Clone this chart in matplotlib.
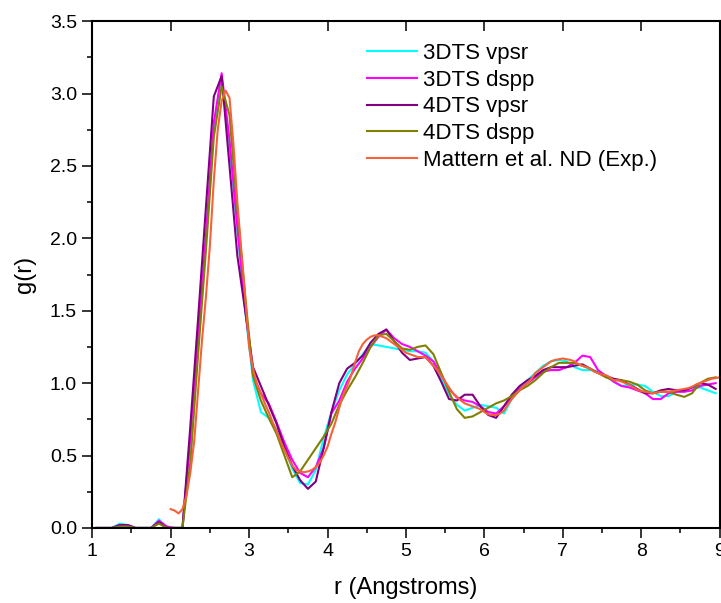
import matplotlib
matplotlib.use("Agg")
import matplotlib.pyplot as plt
from matplotlib.ticker import MultipleLocator

plt.rcParams['font.family'] = ['Liberation Sans', 'DejaVu Sans']

# Simulation histogram bins (Angstroms)
r_sim = [1.05, 1.15, 1.25, 1.35, 1.45, 1.55, 1.65, 1.75, 1.85, 1.95,
         2.05, 2.15, 2.25, 2.35, 2.45, 2.55, 2.65, 2.75, 2.85, 2.95,
         3.05, 3.15, 3.25, 3.35, 3.45, 3.55, 3.65, 3.75, 3.85, 3.95,
         4.05, 4.15, 4.25, 4.35, 4.45, 4.55, 4.65, 4.75, 4.85, 4.95,
         5.05, 5.15, 5.25, 5.35, 5.45, 5.55, 5.65, 5.75, 5.85, 5.95,
         6.05, 6.15, 6.25, 6.35, 6.45, 6.55, 6.65, 6.75, 6.85, 6.95,
         7.05, 7.15, 7.25, 7.35, 7.45, 7.55, 7.65, 7.75, 7.85, 7.95,
         8.05, 8.15, 8.25, 8.35, 8.45, 8.55, 8.65, 8.75, 8.85, 8.95]

g_3dts_vpsr = [0.00, 0.00, 0.00, 0.03, 0.02, 0.00, 0.00, 0.00, 0.06, 0.00,
               0.00, 0.00, 0.60, 1.30, 2.00, 2.75, 3.10, 2.65, 2.05, 1.50,
               1.02, 0.80, 0.76, 0.68, 0.55, 0.41, 0.31, 0.30, 0.40, 0.62,
               0.80, 0.95, 1.06, 1.13, 1.20, 1.27, 1.26, 1.25, 1.24, 1.23,
               1.22, 1.22, 1.21, 1.15, 1.03, 0.92, 0.85, 0.81, 0.83, 0.85,
               0.84, 0.83, 0.79, 0.89, 0.97, 1.02, 1.07, 1.12, 1.15, 1.16,
               1.15, 1.11, 1.09, 1.09, 1.08, 1.05, 1.01, 0.98, 0.99, 0.99,
               0.98, 0.94, 0.91, 0.91, 0.94, 0.95, 0.97, 0.97, 0.95, 0.93]

g_3dts_dspp = [0.00, 0.00, 0.00, 0.02, 0.02, 0.00, 0.00, 0.00, 0.05, 0.01,
               0.00, 0.00, 0.62, 1.32, 2.02, 2.80, 3.14, 2.68, 2.08, 1.52,
               1.06, 0.93, 0.86, 0.73, 0.59, 0.47, 0.38, 0.35, 0.42, 0.55,
               0.79, 0.88, 1.01, 1.10, 1.17, 1.25, 1.32, 1.37, 1.31, 1.27,
               1.25, 1.22, 1.19, 1.15, 1.06, 0.96, 0.90, 0.88, 0.87, 0.84,
               0.80, 0.79, 0.84, 0.90, 0.96, 1.00, 1.04, 1.08, 1.09, 1.09,
               1.11, 1.14, 1.19, 1.18, 1.09, 1.05, 1.01, 0.98, 0.97, 0.95,
               0.93, 0.89, 0.89, 0.93, 0.94, 0.94, 0.95, 0.98, 0.99, 1.00]

g_4dts_vpsr = [0.00, 0.00, 0.00, 0.02, 0.02, 0.00, 0.00, 0.00, 0.04, 0.00,
               0.00, 0.00, 0.70, 1.45, 2.22, 2.98, 3.12, 2.50, 1.88, 1.50,
               1.11, 0.98, 0.85, 0.72, 0.56, 0.43, 0.33, 0.27, 0.32, 0.55,
               0.80, 1.00, 1.10, 1.14, 1.19, 1.28, 1.34, 1.37, 1.29, 1.21,
               1.16, 1.17, 1.18, 1.12, 1.01, 0.89, 0.88, 0.92, 0.92, 0.84,
               0.78, 0.76, 0.84, 0.92, 0.98, 1.02, 1.05, 1.09, 1.11, 1.11,
               1.11, 1.12, 1.13, 1.10, 1.07, 1.05, 1.03, 1.02, 0.99, 0.96,
               0.93, 0.93, 0.95, 0.96, 0.95, 0.95, 0.97, 1.00, 0.99, 0.96]

g_4dts_dspp = [0.00, 0.00, 0.00, 0.01, 0.01, 0.00, 0.00, 0.00, 0.03, 0.00,
               0.00, 0.00, 0.45, 1.20, 1.92, 2.70, 3.05, 2.85, 2.20, 1.60,
               1.05, 0.88, 0.76, 0.65, 0.50, 0.35, 0.39, 0.47, 0.55, 0.63,
               0.72, 0.85, 0.95, 1.04, 1.14, 1.25, 1.33, 1.34, 1.29, 1.24,
               1.23, 1.25, 1.26, 1.20, 1.07, 0.94, 0.82, 0.76, 0.77, 0.80,
               0.83, 0.86, 0.88, 0.91, 0.95, 0.98, 1.02, 1.07, 1.11, 1.14,
               1.14, 1.14, 1.12, 1.10, 1.07, 1.04, 1.02, 1.02, 1.01, 0.99,
               0.95, 0.93, 0.94, 0.94, 0.92, 0.905, 0.93, 1.00, 1.03, 1.04]

# Neutron diffraction data
r_exp = [2.00, 2.05, 2.10, 2.15, 2.20, 2.25, 2.30, 2.35, 2.40, 2.45,
         2.50, 2.55, 2.60, 2.65, 2.70, 2.75, 2.80, 2.85, 2.90, 2.95,
         3.00, 3.05, 3.10, 3.15, 3.20, 3.25, 3.30, 3.35, 3.40, 3.45,
         3.50, 3.55, 3.60, 3.65, 3.70, 3.75, 3.80, 3.85, 3.90, 3.95,
         4.00, 4.05, 4.10, 4.15, 4.20, 4.25, 4.30, 4.35, 4.40, 4.45,
         4.50, 4.55, 4.60, 4.65, 4.70, 4.75, 4.80, 4.85, 4.90, 4.95,
         5.00, 5.05, 5.10, 5.15, 5.20, 5.25, 5.30, 5.35, 5.40, 5.45,
         5.50, 5.55, 5.60, 5.65, 5.70, 5.75, 5.80, 5.85, 5.90, 5.95,
         6.00, 6.05, 6.10, 6.15, 6.20, 6.25, 6.30, 6.35, 6.40, 6.45,
         6.50, 6.55, 6.60, 6.65, 6.70, 6.75, 6.80, 6.85, 6.90, 6.95,
         7.00, 7.05, 7.10, 7.15, 7.20, 7.25, 7.30, 7.35, 7.40, 7.45,
         7.50, 7.55, 7.60, 7.65, 7.70, 7.75, 7.80, 7.85, 7.90, 7.95,
         8.00, 8.05, 8.10, 8.15, 8.20, 8.25, 8.30, 8.35, 8.40, 8.45,
         8.50, 8.55, 8.60, 8.65, 8.70, 8.75, 8.80, 8.85, 8.90, 8.95,
         9.00]

g_exp = [0.13, 0.12, 0.10, 0.13, 0.22, 0.38, 0.60, 0.95, 1.30, 1.60,
         1.95, 2.40, 2.75, 2.95, 3.02, 2.97, 2.65, 2.25, 1.92, 1.60,
         1.25, 1.10, 0.99, 0.93, 0.86, 0.80, 0.73, 0.67, 0.60, 0.54,
         0.48, 0.43, 0.40, 0.39, 0.385, 0.39, 0.40, 0.42, 0.45, 0.50,
         0.56, 0.65, 0.73, 0.83, 0.92, 0.98, 1.05, 1.14, 1.22, 1.27,
         1.30, 1.32, 1.33, 1.33, 1.32, 1.31, 1.29, 1.27, 1.25, 1.23,
         1.21, 1.20, 1.19, 1.18, 1.18, 1.18, 1.15, 1.12, 1.09, 1.05,
         1.01, 0.97, 0.93, 0.905, 0.88, 0.86, 0.85, 0.84, 0.83, 0.82,
         0.80, 0.785, 0.78, 0.78, 0.79, 0.81, 0.85, 0.89, 0.92, 0.95,
         0.98, 1.00, 1.03, 1.07, 1.09, 1.11, 1.13, 1.15, 1.16, 1.165,
         1.17, 1.165, 1.16, 1.15, 1.13, 1.12, 1.11, 1.10, 1.08, 1.07,
         1.06, 1.055, 1.04, 1.02, 1.02, 1.01, 1.00, 0.99, 0.97, 0.955,
         0.945, 0.94, 0.935, 0.93, 0.935, 0.94, 0.94, 0.94, 0.945, 0.95,
         0.955, 0.96, 0.965, 0.975, 0.99, 1.00, 1.01, 1.02, 1.03, 1.035,
         1.04]

labels = ['3DTS vpsr', '3DTS dspp', '4DTS vpsr', '4DTS dspp',
          'Mattern et al. ND (Exp.)']
colors = ['#00FFFF', '#FF00FF', '#800080', '#808000', '#F4623A']

fig = plt.figure(figsize=(7.21, 6.03), dpi=100)
ax = fig.add_axes([0.128, 0.1245, 0.87, 0.8405])

series = [(r_sim, g_3dts_vpsr), (r_sim, g_3dts_dspp), (r_sim, g_4dts_vpsr),
          (r_sim, g_4dts_dspp), (r_exp, g_exp)]
for (xs, ys), lab, col in zip(series, labels, colors):
    ax.plot(xs, ys, color=col, lw=1.5, label=lab)

ax.set_xlim(1, 9)
ax.set_ylim(0, 3.5)
ax.xaxis.set_major_locator(MultipleLocator(1))
ax.xaxis.set_minor_locator(MultipleLocator(0.5))
ax.yaxis.set_major_locator(MultipleLocator(0.5))
ax.yaxis.set_minor_locator(MultipleLocator(0.25))
ax.yaxis.set_major_formatter(matplotlib.ticker.FormatStrFormatter('%.1f'))

for s in ax.spines.values():
    s.set_linewidth(1.5)

ax.tick_params(axis='both', which='major', direction='out', length=7,
               width=1.1, labelsize=14, pad=4)
ax.tick_params(axis='both', which='minor', direction='out', length=3.6,
               width=1.1)
ax.tick_params(axis='x', which='major', top=True, labeltop=False)
ax.tick_params(axis='x', which='minor', top=False)

# top ticks point into the plot
for t in ax.xaxis.get_major_ticks():
    t.tick2line.set_marker(matplotlib.lines.TICKDOWN)

ax.set_xlabel('r (Angstroms)', fontsize=17, labelpad=12)
ax.set_ylabel('g(r)', fontsize=17, labelpad=10)

ax.legend(loc='upper left', bbox_to_anchor=(0.438, 0.957), frameon=False,
          fontsize=16, handlelength=2.25, handletextpad=0.28,
          labelspacing=0.26, borderaxespad=0, borderpad=0)

fig.savefig('out.png', dpi=100)
